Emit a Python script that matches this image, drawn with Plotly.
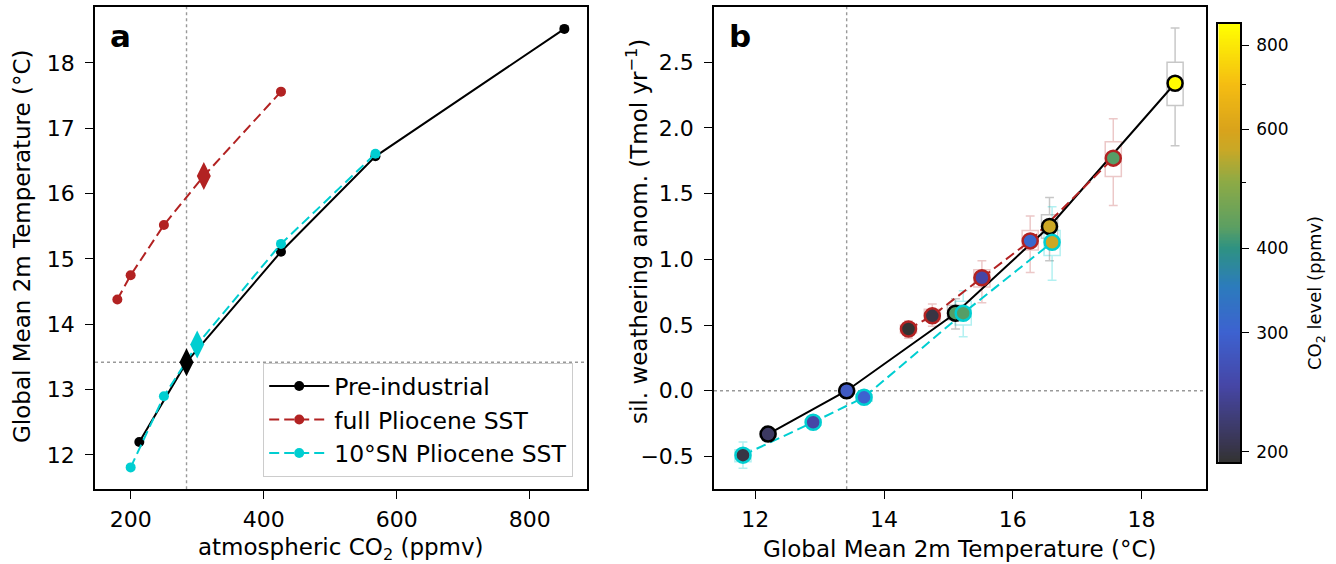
import numpy as np
import plotly.graph_objects as go

# ---------------- data ----------------
pi_co2 = [213, 284, 426, 568, 852]
pi_temp = [12.20, 13.42, 15.11, 16.57, 18.52]
pi_weath = [-0.33, 0.00, 0.59, 1.25, 2.34]
pi_lo = [-0.37, -0.03, 0.47, 0.99, 1.865]
pi_q1 = [-0.35, -0.015, 0.54, 1.16, 2.17]
pi_q3 = [-0.31, 0.015, 0.65, 1.34, 2.50]
pi_hi = [-0.29, 0.03, 0.70, 1.47, 2.76]

full_co2 = [180, 200, 250, 310, 426]
full_temp = [14.38, 14.75, 15.52, 16.27, 17.56]
full_weath = [0.47, 0.57, 0.86, 1.14, 1.77]
full_lo = [0.40, 0.49, 0.67, 0.90, 1.41]
full_q1 = [0.44, 0.53, 0.79, 1.07, 1.63]
full_q3 = [0.50, 0.62, 0.92, 1.22, 1.895]
full_hi = [0.53, 0.66, 0.99, 1.33, 2.07]

sn_co2 = [200, 250, 300, 426, 568]
sn_temp = [11.81, 12.90, 13.69, 15.23, 16.61]
sn_weath = [-0.49, -0.24, -0.05, 0.59, 1.13]
sn_lo = [-0.59, -0.28, -0.10, 0.41, 0.84]
sn_q1 = [-0.54, -0.26, -0.08, 0.50, 1.03]
sn_q3 = [-0.45, -0.22, -0.03, 0.68, 1.22]
sn_hi = [-0.39, -0.20, 0.00, 0.76, 1.40]

# index of the highlighted (diamond) point in each series
pi_diamond = 1
full_diamond = 3
sn_diamond = 2

ref_co2 = 284
ref_temp = 13.42
ref_weath = 0.0

series_names = ["Pre-industrial", "full Pliocene SST", "10°SN Pliocene SST"]

cbar_min, cbar_max = 193, 860
cbar_ticks = [200, 300, 400, 600, 800]
cbar_minor = [500, 700]
cscale_ppm = [193, 205, 250, 300, 350, 400, 430, 500, 560, 600, 700, 860]
cscale_col = ['#333333', '#393650', '#4646a6', '#3d62d0', '#2c7bbd', '#2e9282',
              '#5c9f62', '#8caa46', '#c9a826', '#d9a31b', '#f5bd12', '#ffff00']

# ---------------- style ----------------
W, H = 1336, 564
FONT = "DejaVu Sans"
BLACK = "#000000"
RED = "#b22222"
CYAN = "#00ced1"
BOXCOL = ["rgba(0,0,0,0.22)", "rgba(178,34,34,0.25)", "rgba(0,206,209,0.3)"]

def fx(px):
    return px / W

def fy(py):
    return 1 - py / H

lo_l, hi_l = np.log10(cbar_min), np.log10(cbar_max)
colorscale = [[(np.log10(p) - lo_l) / (hi_l - lo_l), c] for p, c in zip(cscale_ppm, cscale_col)]

fig = go.Figure()

# ---- panel b: boxes ----
for (t, q1, md, q3, lo, hi, col) in [
    (pi_temp, pi_q1, pi_weath, pi_q3, pi_lo, pi_hi, BOXCOL[0]),
    (full_temp, full_q1, full_weath, full_q3, full_lo, full_hi, BOXCOL[1]),
    (sn_temp, sn_q1, sn_weath, sn_q3, sn_lo, sn_hi, BOXCOL[2]),
]:
    fig.add_trace(go.Box(x=t, q1=q1, median=md, q3=q3, lowerfence=lo, upperfence=hi,
                         width=0.25, whiskerwidth=0.55, boxpoints=False,
                         line=dict(color=col, width=1.5), fillcolor="rgba(0,0,0,0)",
                         xaxis="x2", yaxis="y2", showlegend=False, hoverinfo="skip"))

# ---- colorbar as heatmap ----
cb_y = np.linspace(lo_l, hi_l, 300)
fig.add_trace(go.Heatmap(x=[0], y=cb_y, z=[[v] for v in cb_y], colorscale=colorscale,
                         zmin=lo_l, zmax=hi_l, showscale=False, xaxis="x3", yaxis="y3",
                         hoverinfo="skip"))

# ---- panel a ----
dash = "10px,5px"
for name, x, y, col, d in [
    (series_names[0], pi_co2, pi_temp, BLACK, "solid"),
    (series_names[1], full_co2, full_temp, RED, dash),
    (series_names[2], sn_co2, sn_temp, CYAN, dash),
]:
    fig.add_trace(go.Scatter(x=x, y=y, mode="lines+markers", name=name,
                             line=dict(color=col, width=2, dash=d),
                             marker=dict(color=col, size=10, symbol="circle"),
                             xaxis="x", yaxis="y"))
for x, y, i, col in [
    (pi_co2, pi_temp, pi_diamond, BLACK),
    (full_co2, full_temp, full_diamond, RED),
    (sn_co2, sn_temp, sn_diamond, CYAN),
]:
    fig.add_trace(go.Scatter(x=[x[i]], y=[y[i]], mode="markers",
                             marker=dict(color=col, size=20, symbol="diamond-tall"),
                             showlegend=False, xaxis="x", yaxis="y"))

# ---- panel b lines ----
for x, y, col, d in [
    (pi_temp, pi_weath, BLACK, "solid"),
    (full_temp, full_weath, RED, dash),
    (sn_temp, sn_weath, CYAN, dash),
]:
    fig.add_trace(go.Scatter(x=x, y=y, mode="lines", line=dict(color=col, width=2, dash=d),
                             showlegend=False, xaxis="x2", yaxis="y2", hoverinfo="skip"))
# ---- panel b markers ----
for x, y, c, col in [
    (pi_temp, pi_weath, pi_co2, BLACK),
    (full_temp, full_weath, full_co2, RED),
    (sn_temp, sn_weath, sn_co2, CYAN),
]:
    fig.add_trace(go.Scatter(x=x, y=y, mode="markers", showlegend=False, xaxis="x2", yaxis="y2",
                             marker=dict(size=15, color=np.log10(c), colorscale=colorscale,
                                         cmin=lo_l, cmax=hi_l, line=dict(color=col, width=2.5))))

tickfont = dict(family=FONT, size=22, color="black")
axis_common = dict(showline=True, linecolor="black", linewidth=1.6, mirror=True,
                   ticks="outside", ticklen=8, tickwidth=1.3, tickcolor="black",
                   showgrid=False, zeroline=False, tickfont=tickfont)

ybot, ytop = fy(489.3), fy(7)
fig.update_layout(
    width=W, height=H, margin=dict(l=0, r=0, t=0, b=0),
    paper_bgcolor="white", plot_bgcolor="white",
    font=dict(family=FONT, size=22, color="black"),
    xaxis=dict(domain=[fx(95), fx(586.7)], range=[146.4, 885.6], tickvals=[200, 400, 600, 800],
               anchor="y", ticklabelstandoff=1, **axis_common),
    yaxis=dict(domain=[ybot, ytop], range=[11.475, 18.855], tickvals=[12, 13, 14, 15, 16, 17, 18],
               anchor="x", ticklabelstandoff=6, **axis_common),
    xaxis2=dict(domain=[fx(714), fx(1206)], range=[11.36, 19.0], tickvals=[12, 14, 16, 18],
                anchor="y2", ticklabelstandoff=1, **axis_common),
    yaxis2=dict(domain=[ybot, ytop], range=[-0.75, 2.92], tickvals=[-0.5, 0, 0.5, 1.0, 1.5, 2.0, 2.5],
                tickformat=".1f", anchor="x2", ticklabelstandoff=6, **axis_common),
    xaxis3=dict(domain=[fx(1218.3), fx(1240)], range=[-0.5, 0.5], anchor="y3",
                showline=True, linecolor="black", linewidth=1.6, mirror=True,
                showticklabels=False, ticks="", showgrid=False, zeroline=False),
    yaxis3=dict(domain=[fy(462), fy(24)], range=[lo_l, hi_l], anchor="x3", side="right",
                tickvals=list(np.log10(cbar_ticks)), ticktext=[str(v) for v in cbar_ticks],
                showline=True, linecolor="black", linewidth=1.6, mirror=True,
                ticks="outside", ticklen=7, tickwidth=1.2, tickcolor="black",
                tickfont=dict(family=FONT, size=17, color="black"), ticklabelstandoff=4,
                minor=dict(tickvals=list(np.log10(cbar_minor)), ticks="outside", ticklen=4,
                           tickwidth=1, tickcolor="black"),
                showgrid=False, zeroline=False),
    legend=dict(x=fx(573), y=fy(477), xanchor="right", yanchor="bottom",
                bgcolor="white", bordercolor="#cccccc", borderwidth=1.2,
                font=dict(family=FONT, size=23.5, color="black"), itemwidth=60,
                tracegroupgap=0),
    showlegend=True,
)

# reference lines
dot = dict(color="#999999", width=1.4, dash="dot")
fig.add_shape(type="line", xref="x", yref="y domain", x0=ref_co2, x1=ref_co2, y0=0, y1=1, line=dot, layer="below")
fig.add_shape(type="line", xref="x domain", yref="y", x0=0, x1=1, y0=ref_temp, y1=ref_temp, line=dot, layer="below")
fig.add_shape(type="line", xref="x2", yref="y2 domain", x0=ref_temp, x1=ref_temp, y0=0, y1=1, line=dot, layer="below")
fig.add_shape(type="line", xref="x2 domain", yref="y2", x0=0, x1=1, y0=ref_weath, y1=ref_weath, line=dot, layer="below")

# titles / labels
def ann(text, x, y, size=23, angle=0, bold=False, xanchor="center", yanchor="middle"):
    fig.add_annotation(text=("<b>%s</b>" % text) if bold else text, x=fx(x), y=fy(y),
                       xref="paper", yref="paper", showarrow=False, textangle=angle,
                       xanchor=xanchor, yanchor=yanchor,
                       font=dict(family=FONT, size=size, color="black"))

ann("atmospheric CO<sub>2</sub> (ppmv)", 341, 549)
ann("Global Mean 2m Temperature (°C)", 960, 549)
ann("Global Mean 2m Temperature (°C)", 22, 246, angle=-90)
ann("sil. weathering anom. (Tmol yr<sup>−1</sup>)", 637, 232, angle=-90)
ann("CO<sub>2</sub> level (ppmv)", 1316, 293, size=18, angle=-90)
ann("a", 108, 36, size=31, bold=True, xanchor="left")
ann("b", 727, 36, size=31, bold=True, xanchor="left")

fig.write_html("out.html", post_script="document.body.style.margin='0px';",
               config={"displayModeBar": False})
